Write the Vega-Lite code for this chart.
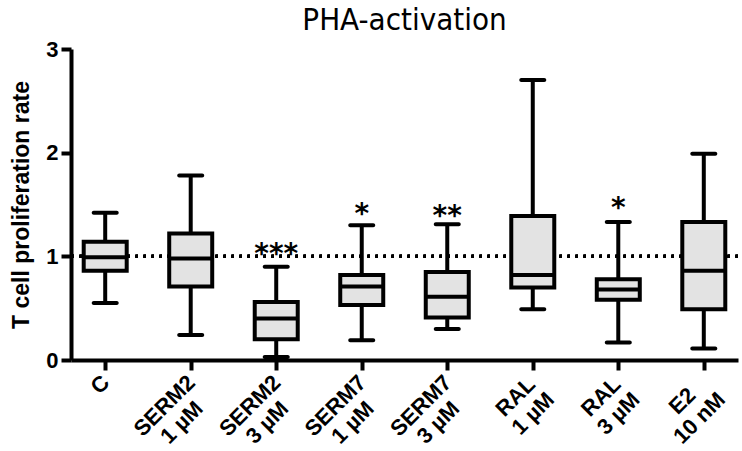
{
  "$schema": "https://vega.github.io/schema/vega-lite/v6.json",
  "autosize": "none",
  "width": 667,
  "height": 311,
  "padding": {"left": 71, "top": 49, "right": 4, "bottom": 91},
  "title": {"text": "PHA-activation", "font": "DejaVu Sans Condensed", "fontSize": 31, "fontWeight": "normal", "anchor": "middle", "offset": 1, "color": "black"},
  "config": {"view": {"stroke": null}, "font": "Liberation Sans"},
  "data": {"values": [
    {"group": "C", "l1": "C", "min": 0.55, "q1": 0.86, "median": 0.99, "q3": 1.14, "max": 1.42},
    {"group": "SERM2 1 µM", "l1": "SERM2", "l2": "1 µM", "min": 0.24, "q1": 0.71, "median": 0.98, "q3": 1.22, "max": 1.78},
    {"group": "SERM2 3 µM", "l1": "SERM2", "l2": "3 µM", "min": 0.03, "q1": 0.20, "median": 0.40, "q3": 0.56, "max": 0.90, "star": "***", "ystar": 1.10},
    {"group": "SERM7 1 µM", "l1": "SERM7", "l2": "1 µM", "min": 0.19, "q1": 0.53, "median": 0.71, "q3": 0.82, "max": 1.30, "star": "*", "ystar": 1.49},
    {"group": "SERM7 3 µM", "l1": "SERM7", "l2": "3 µM", "min": 0.30, "q1": 0.41, "median": 0.61, "q3": 0.85, "max": 1.31, "star": "**", "ystar": 1.47},
    {"group": "RAL 1 µM", "l1": "RAL", "l2": "1 µM", "min": 0.49, "q1": 0.70, "median": 0.82, "q3": 1.39, "max": 2.70},
    {"group": "RAL 3 µM", "l1": "RAL", "l2": "3 µM", "min": 0.17, "q1": 0.58, "median": 0.68, "q3": 0.78, "max": 1.33, "star": "*", "ystar": 1.54},
    {"group": "E2 10 nM", "l1": "E2", "l2": "10 nM", "min": 0.11, "q1": 0.49, "median": 0.86, "q3": 1.33, "max": 1.99}
  ]},
  "encoding": {
    "x": {
      "field": "group", "type": "nominal", "sort": null,
      "scale": {"type": "point", "padding": 0.4, "domain": ["C", "SERM2 1 µM", "SERM2 3 µM", "SERM7 1 µM", "SERM7 3 µM", "RAL 1 µM", "RAL 3 µM", "E2 10 nM"]},
      "axis": {
        "title": null,
        "labels": false,
        "domainWidth": 4,
        "domainColor": "black",
        "tickWidth": 4,
        "tickSize": 10,
        "tickColor": "black",
        "grid": false
      }
    }
  },
  "layer": [
    {
      "mark": {"type": "rule", "strokeDash": [2.5, 5.5], "strokeWidth": 3, "color": "black"},
      "encoding": {"x": null, "y": {"datum": 1, "type": "quantitative"}}
    },
    {
      "mark": {"type": "rule", "strokeWidth": 4, "color": "black"},
      "encoding": {
        "y": {
          "field": "min", "type": "quantitative",
          "scale": {"domain": [0, 3], "nice": false},
          "axis": {
            "values": [0, 1, 2, 3], "format": "d",
            "domainWidth": 4, "domainColor": "black",
            "tickWidth": 4, "tickSize": 10, "tickColor": "black",
            "labelFontSize": 22, "labelFontWeight": "bold", "labelColor": "black", "labelPadding": 3,
            "title": "T cell proliferation rate",
            "titleFontSize": 23, "titleFontWeight": "bold", "titleColor": "black", "titlePadding": 12,
            "grid": false
          }
        },
        "y2": {"field": "max"}
      }
    },
    {
      "mark": {"type": "tick", "size": 27, "thickness": 4, "color": "black", "cornerRadius": 2, "opacity": 1},
      "encoding": {"y": {"field": "min", "type": "quantitative"}}
    },
    {
      "mark": {"type": "tick", "size": 27, "thickness": 4, "color": "black", "cornerRadius": 2, "opacity": 1},
      "encoding": {"y": {"field": "max", "type": "quantitative"}}
    },
    {
      "mark": {"type": "bar", "width": 43, "fill": "#e3e3e3", "stroke": "black", "strokeWidth": 4},
      "encoding": {"y": {"field": "q1", "type": "quantitative"}, "y2": {"field": "q3"}}
    },
    {
      "mark": {"type": "tick", "size": 45, "thickness": 4, "color": "black", "opacity": 1},
      "encoding": {"y": {"field": "median", "type": "quantitative"}}
    },
    {
      "mark": {"type": "text", "font": "DejaVu Sans", "fontSize": 28, "fontWeight": "bold", "baseline": "alphabetic", "yOffset": 17, "color": "black"},
      "encoding": {"y": {"field": "ystar", "type": "quantitative"}, "text": {"field": "star"}}
    },
    {
      "transform": [{"filter": "datum.group === 'C' || indexof(datum.group, 'SERM') === 0"}],
      "mark": {"type": "text", "angle": 315, "align": "right", "baseline": "alphabetic", "xOffset": 5.6, "yOffset": 24.0, "fontSize": 22, "fontWeight": "bold", "color": "black"},
      "encoding": {"y": {"datum": 0, "type": "quantitative"}, "text": {"field": "l1"}}
    },
    {
      "transform": [{"filter": "indexof(datum.group, 'RAL') === 0"}],
      "mark": {"type": "text", "angle": 315, "align": "right", "baseline": "alphabetic", "xOffset": 3.8, "yOffset": 25.8, "fontSize": 22, "fontWeight": "bold", "color": "black"},
      "encoding": {"y": {"datum": 0, "type": "quantitative"}, "text": {"field": "l1"}}
    },
    {
      "transform": [{"filter": "indexof(datum.group, 'E2') === 0"}],
      "mark": {"type": "text", "angle": 315, "align": "right", "baseline": "alphabetic", "xOffset": -6.9, "yOffset": 36.5, "fontSize": 22, "fontWeight": "bold", "color": "black"},
      "encoding": {"y": {"datum": 0, "type": "quantitative"}, "text": {"field": "l1"}}
    },
    {
      "transform": [{"filter": "indexof(datum.group, 'SERM') === 0"}],
      "mark": {"type": "text", "angle": 315, "align": "right", "baseline": "alphabetic", "xOffset": 13.5, "yOffset": 50.1, "fontSize": 22, "fontWeight": "bold", "color": "black"},
      "encoding": {"y": {"datum": 0, "type": "quantitative"}, "text": {"field": "l2"}}
    },
    {
      "transform": [{"filter": "indexof(datum.group, 'RAL') === 0 || indexof(datum.group, 'E2') === 0"}],
      "mark": {"type": "text", "angle": 315, "align": "right", "baseline": "alphabetic", "xOffset": 22.6, "yOffset": 41.0, "fontSize": 22, "fontWeight": "bold", "color": "black"},
      "encoding": {"y": {"datum": 0, "type": "quantitative"}, "text": {"field": "l2"}}
    }
  ]
}
